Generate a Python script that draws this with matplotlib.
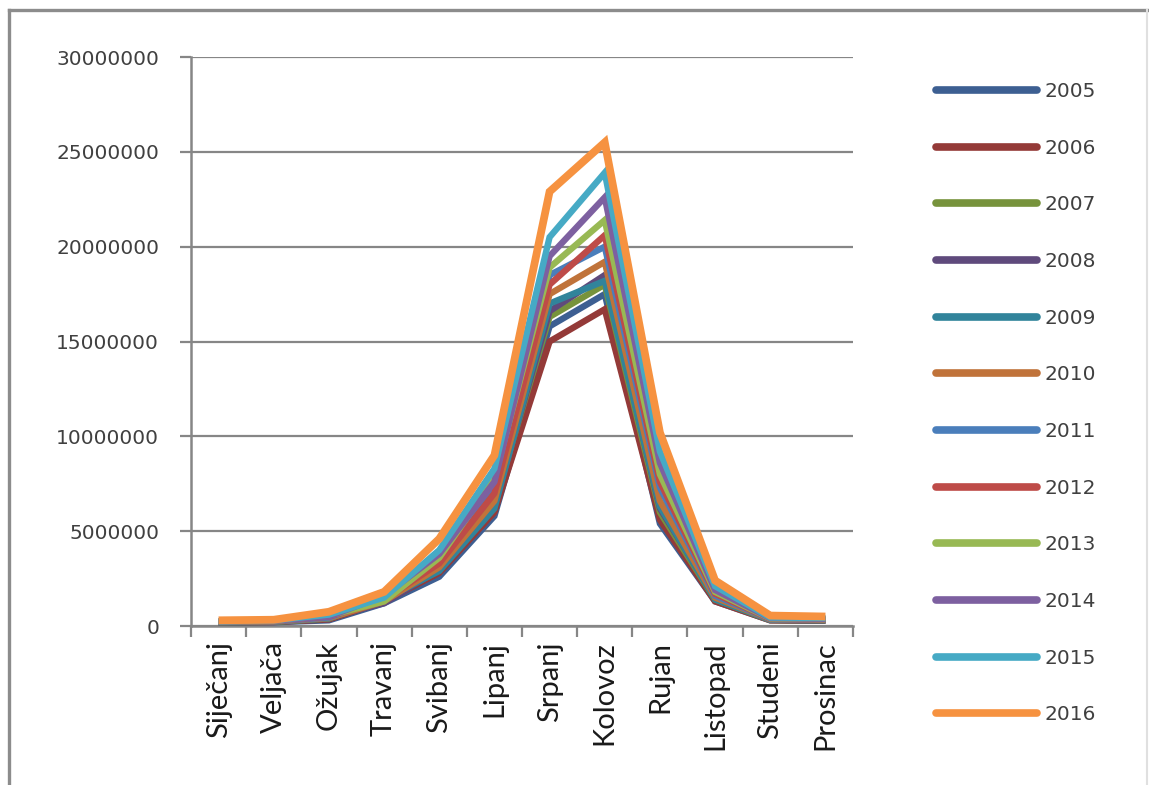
import matplotlib
matplotlib.use("Agg")
import matplotlib.pyplot as plt
from matplotlib.lines import Line2D
import numpy as np

months = ["Siječanj", "Veljača", "Ožujak", "Travanj", "Svibanj", "Lipanj",
          "Srpanj", "Kolovoz", "Rujan", "Listopad", "Studeni", "Prosinac"]
years = ["2005", "2006", "2007", "2008", "2009", "2010",
         "2011", "2012", "2013", "2014", "2015", "2016"]

# values in millions of overnight stays
y2005 = [0.18, 0.20, 0.30, 1.20, 2.60, 5.80, 15.8, 17.5, 5.40, 1.30, 0.30, 0.28]
y2006 = [0.19, 0.21, 0.35, 1.30, 2.80, 6.00, 15.0, 16.7, 5.60, 1.30, 0.30, 0.28]
y2007 = [0.20, 0.22, 0.40, 1.45, 3.20, 6.50, 16.3, 18.0, 6.00, 1.40, 0.32, 0.30]
y2008 = [0.20, 0.23, 0.50, 1.20, 3.00, 6.40, 16.6, 18.5, 6.20, 1.50, 0.33, 0.30]
y2009 = [0.20, 0.23, 0.40, 1.40, 2.90, 6.20, 17.0, 18.2, 6.30, 1.40, 0.33, 0.31]
y2010 = [0.21, 0.24, 0.42, 1.30, 3.10, 6.60, 17.5, 19.2, 6.60, 1.50, 0.35, 0.32]
y2011 = [0.22, 0.25, 0.45, 1.50, 3.40, 7.20, 18.5, 20.0, 7.30, 1.60, 0.36, 0.33]
y2012 = [0.22, 0.26, 0.50, 1.40, 3.30, 7.00, 18.0, 20.6, 7.60, 1.70, 0.38, 0.34]
y2013 = [0.23, 0.27, 0.55, 1.30, 3.60, 7.80, 18.9, 21.4, 8.00, 1.80, 0.40, 0.36]
y2014 = [0.24, 0.28, 0.50, 1.60, 3.80, 7.60, 19.5, 22.6, 8.60, 1.90, 0.42, 0.38]
y2015 = [0.25, 0.30, 0.60, 1.50, 4.00, 8.30, 20.5, 23.9, 9.20, 2.10, 0.45, 0.42]
y2016 = [0.30, 0.33, 0.75, 1.80, 4.60, 9.00, 22.9, 25.5, 10.2, 2.40, 0.55, 0.50]

series = [y2005, y2006, y2007, y2008, y2009, y2010,
          y2011, y2012, y2013, y2014, y2015, y2016]

yticks = [0, 5000000, 10000000, 15000000, 20000000, 25000000, 30000000]

colors = ["#3d5f92", "#943a38", "#77933c", "#5f4a7c", "#31849b", "#c0733a",
          "#4a7ebb", "#be4b48", "#98b954", "#7d60a0", "#46aac5", "#f69240"]

fig = plt.figure(figsize=(11.49, 7.85), dpi=100)
fig.patch.set_facecolor("white")
ax = fig.add_axes([191/1149, 1-626/785, (853-191)/1149, (626-57)/785])

x = np.arange(1, 13)
for i, (yr, vals) in enumerate(zip(years, series)):
    lw = 4.6 if yr != "2016" else 5.6
    ax.plot(x, np.array(vals) * 1e6, color=colors[i], lw=lw,
            solid_joinstyle="miter", solid_capstyle="butt", zorder=3 + i, label=yr)

ax.set_xlim(0.5, 12.5)
ax.set_ylim(0, 30000000)
ax.set_yticks(yticks)
ax.set_yticklabels([str(v) for v in yticks], fontsize=14.5, color="#404040",
                   family="DejaVu Sans")
ax.yaxis.grid(True, color="#868686", lw=1.6, zorder=1)
ax.set_axisbelow(True)

ax.set_xticks(np.arange(0.5, 13, 1))
ax.set_xticklabels([])
ax.set_xticks(x, minor=True)
ax.set_xticklabels(months, minor=True, rotation=90, fontsize=21,
                   family="Lato", color="#1a1a1a", va="top")
ax.tick_params(axis="x", which="minor", length=0, pad=11)
ax.tick_params(axis="x", which="major", length=8, width=1.6, color="#868686", direction="out")
ax.tick_params(axis="y", length=8, width=1.6, color="#868686", pad=15)

for s in ["top", "right"]:
    ax.spines[s].set_visible(False)
for s in ["left", "bottom"]:
    ax.spines[s].set_color("#868686")
    ax.spines[s].set_linewidth(1.8)

leg_handles = [Line2D([0], [0], color=c, lw=5.5, solid_capstyle="round") for c in colors]
leg = fig.legend(leg_handles, years, loc="upper left",
                 bbox_to_anchor=(918/1149, 1-64/785), frameon=False,
                 handlelength=5.0, handletextpad=0.4, labelspacing=1.87,
                 prop={"family": "DejaVu Sans", "size": 14.5})
for t in leg.get_texts():
    t.set_color("#404040")

# outer chart border
fig.add_artist(Line2D([9/1149, 9/1149], [0, 1-10/785], color="#8c8c8c", lw=2.4,
                      transform=fig.transFigure))
fig.add_artist(Line2D([9/1149, 1147/1149], [1-10/785, 1-10/785], color="#8c8c8c", lw=2.4,
                      transform=fig.transFigure))
fig.add_artist(Line2D([1147/1149, 1147/1149], [0, 1-10/785], color="#e0e0e0", lw=1.5,
                      transform=fig.transFigure))

fig.savefig("out.png", dpi=100, facecolor="white")
